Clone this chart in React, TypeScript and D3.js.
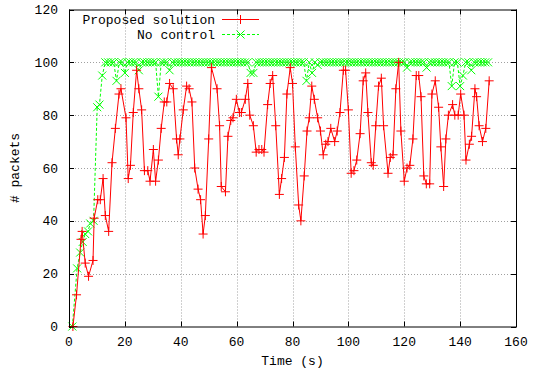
import React from "react";
import * as d3 from "d3";

// Proposed solution (red): sample times (s) and packet counts
const proposedTime = [
  1.4, 2.7, 4.3, 4.7, 5.8, 7, 8.6, 9, 10.3, 11.2, 12.2, 13, 14.2, 15.4, 16.6, 17.9, 18.6, 20.4,
  21.2, 22, 23, 24.2, 25, 26, 27, 28.2, 29, 30.2, 31, 32, 33, 34.1, 35, 36, 37.3, 38.5, 39.1,
  39.7, 40.9, 42.1, 43, 44, 45, 46.2, 47.1, 48, 48.8, 50, 51, 53, 53.9, 54.5, 56, 56.9, 57.9,
  58.7, 59.9, 61, 61.7, 63.1, 64, 64.7, 66, 67, 68, 69, 69.8, 71.1, 72, 72.9, 74, 75.3, 76.1,
  77.1, 78, 79.2, 80, 81, 82.2, 83, 84.2, 85.2, 86, 86.9, 87.8, 89, 90, 91, 91.9, 92.7, 93.7,
  95.1, 96, 97, 98.2, 99, 100, 101, 102, 103, 104.2, 105.3, 106.2, 107, 108.2, 108.9, 109.8,
  110.8, 111.8, 112.6, 114.2, 115, 116, 117, 118, 118.8, 120, 121, 122, 123.1, 124.3, 125.2,
  126, 127, 127.9, 129.1, 129.9, 131.1, 132.3, 133.1, 134.1, 134.9, 135.8, 137.3, 138.1,
  139.3, 140.2, 141.4, 142.1, 143.3, 144.1, 145.3, 145.9, 146.8, 148, 149.2, 150.4,
];
const proposedPackets = [
  0, 12, 33, 36, 24, 19, 25, 41, 48, 48, 56, 42, 36, 62, 75, 88, 90, 79,
  56, 61, 81, 97, 90, 82, 59, 59, 55, 67, 55, 63, 75, 85, 85, 92, 90, 71, 65,
  71, 82, 91, 90, 85, 60, 52, 48, 35, 42, 71, 98, 90, 76, 53, 51, 72, 78,
  79, 86, 81, 81, 86, 92, 80, 76, 66, 67, 67, 66, 84, 92, 95, 76, 50, 56,
  64, 88, 98, 92, 68, 46, 40, 57, 74, 79, 91, 86, 79, 74, 65, 69, 70, 75,
  70, 74, 81, 97, 97, 82, 58, 59, 63, 73, 93, 96, 81, 62, 61, 76,
  91, 94, 76, 58, 64, 65, 90, 100, 74, 55, 60, 61, 71, 95, 95,
  87, 57, 54, 54, 88, 93, 83, 68, 53, 71, 80, 84, 80,
  80, 88, 80, 63, 69, 72, 90, 87, 76, 70, 75, 93,
];

// No control (green)
const noControlTime = [
  1.2, 2.9, 4, 4.9, 5.8, 6.8, 7.6, 8.8, 10.1, 10.9, 11.9, 13, 14, 15, 16, 17, 18, 19, 20, 21,
  22, 23, 24, 25, 26, 27, 28, 29, 30, 31, 32, 33, 34, 35, 36, 37, 38, 39, 40, 41, 42, 43, 44,
  45, 46, 47, 48, 49, 50, 51, 52, 53, 54, 55, 56, 57, 58, 59, 60, 61, 62, 63, 64, 65, 66, 67,
  68, 69, 70, 71, 72, 73, 74, 75, 76, 77, 78, 79, 80, 81, 82, 83, 84, 85, 86, 87, 88, 89, 90,
  91, 92, 93, 94, 95, 96, 97, 98, 99, 100, 101, 102, 103, 104, 105, 106, 107, 108, 109, 110,
  111, 112, 113, 114, 115, 116, 117, 118, 119, 120, 121, 122, 123, 124, 125, 126, 127, 128,
  129, 130, 131, 132, 133, 134, 135, 136, 137, 138, 139, 140, 141, 142, 143, 144, 145, 146,
  147, 148, 149, 150,
];
const noControlPackets = [
  0, 22, 28, 32, 35, 36, 39, 40, 83, 84, 95, 100, 100, 100, 100, 93, 100, 100, 96, 100,
  100, 100, 100, 97, 100, 100, 100, 100, 100, 100, 87, 100, 100, 100, 97, 100, 100, 100, 100, 100, 100, 100, 100,
  100, 100, 100, 100, 100, 100, 100, 100, 100, 100, 100, 100, 100, 100, 100, 100, 100, 100, 100, 100, 96, 96, 100,
  100, 100, 100, 100, 100, 100, 100, 100, 100, 100, 100, 100, 100, 100, 100, 100, 100, 93, 100, 96, 100, 99, 100,
  100, 100, 100, 100, 100, 100, 100, 100, 100, 100, 100, 100, 100, 100, 100, 100, 100, 100, 100, 100,
  100, 100, 100, 100, 100, 100, 100, 100, 100, 100, 98, 100, 100, 100, 100, 100, 100, 98,
  100, 100, 100, 100, 100, 100, 100, 100, 91, 100, 100, 91, 95, 100, 100, 97, 100, 100,
  100, 100, 100, 100,
];

const xTicks = [0, 20, 40, 60, 80, 100, 120, 140, 160];
const yTicks = [0, 20, 40, 60, 80, 100, 120];

const W = 533;
const H = 373;
const margin = { top: 9.5, right: 17, bottom: 46.5, left: 69 };
const FONT = "'Liberation Mono', 'Courier New', monospace";

const plusPath = (x: number, y: number) => `M${x - 4.5},${y}h9M${x},${y - 4.5}v9`;
const crossPath = (x: number, y: number) => `M${x - 4},${y - 4}l8,8M${x - 4},${y + 4}l8,-8`;

export default function App() {
  const x = d3.scaleLinear().domain([0, 160]).range([margin.left, W - margin.right]);
  const y = d3.scaleLinear().domain([0, 120]).range([H - margin.bottom, margin.top]);

  const red = proposedTime.map((t, i) => [t, proposedPackets[i]] as [number, number]);
  const green = noControlTime.map((t, i) => [t, noControlPackets[i]] as [number, number]);

  const line = d3
    .line<[number, number]>()
    .x((d) => x(d[0]))
    .y((d) => y(d[1]));

  const x0 = x(0), x1 = x(160), y0 = y(0), y1 = y(120);

  return (
    <div style={{ position: "absolute", left: 0, top: 0 }}>
      <svg width={W} height={H} style={{ display: "block", background: "#fff" }}>
        {/* grid */}
        <g stroke="#a0a0a0" strokeWidth={1} strokeDasharray="1,2">
          {xTicks.slice(1, -1).map((t) => (
            <line key={"gx" + t} x1={Math.round(x(t)) + 0.5} x2={Math.round(x(t)) + 0.5} y1={y1} y2={y0} />
          ))}
          {yTicks.slice(1, -1).map((t) => (
            <line key={"gy" + t} x1={x0} x2={x1} y1={Math.round(y(t)) + 0.5} y2={Math.round(y(t)) + 0.5} />
          ))}
        </g>

        {/* ticks, mirrored inside */}
        <g stroke="#000" strokeWidth={1}>
          {xTicks.map((t) => {
            const px = Math.round(x(t)) + 0.5;
            return (
              <g key={"tx" + t}>
                <line x1={px} x2={px} y1={y0} y2={y0 - 5} />
                <line x1={px} x2={px} y1={y1} y2={y1 + 5} />
              </g>
            );
          })}
          {yTicks.map((t) => {
            const py = Math.round(y(t)) + 0.5;
            return (
              <g key={"ty" + t}>
                <line x1={x0} x2={x0 + 5} y1={py} y2={py} />
                <line x1={x1} x2={x1 - 5} y1={py} y2={py} />
              </g>
            );
          })}
        </g>

        {/* tick labels */}
        <g fontFamily={FONT} fontSize={13} fill="#000">
          {xTicks.map((t) => (
            <text key={"lx" + t} x={x(t)} y={y0 + 19.5} textAnchor="middle">
              {t}
            </text>
          ))}
          {yTicks.map((t) => (
            <text key={"ly" + t} x={x0 - 11} y={y(t) + 4.5} textAnchor="end">
              {t}
            </text>
          ))}
          <text x={(x0 + x1) / 2} y={H - 8.5} textAnchor="middle">
            Time (s)
          </text>
          <text transform={`translate(19,${(y0 + y1) / 2}) rotate(-90)`} textAnchor="middle">
            # packets
          </text>
        </g>

        {/* no control series */}
        <path d={line(green) || ""} fill="none" stroke="#00ff00" strokeWidth={1} strokeDasharray="3,2" />
        <path
          d={green.map((d) => crossPath(x(d[0]), y(d[1]))).join("")}
          fill="none"
          stroke="#00ff00"
          strokeWidth={1}
        />

        {/* proposed solution series */}
        <path d={line(red) || ""} fill="none" stroke="#ff0000" strokeWidth={1} />
        <path
          d={red.map((d) => plusPath(x(d[0]), y(d[1]))).join("")}
          fill="none"
          stroke="#ff0000"
          strokeWidth={1}
        />

        {/* legend */}
        <g fontFamily={FONT} fontSize={13} fill="#000">
          <text x={215} y={23.5} textAnchor="end">Proposed solution</text>
          <text x={215} y={38.5} textAnchor="end">No control</text>
        </g>
        <line x1={222} x2={259} y1={19.5} y2={19.5} stroke="#ff0000" strokeWidth={1} />
        <path d={plusPath(240.5, 19.5)} stroke="#ff0000" strokeWidth={1} fill="none" />
        <line x1={222} x2={259} y1={34.5} y2={34.5} stroke="#00ff00" strokeWidth={1} strokeDasharray="3,2" />
        <path d={crossPath(240.5, 34.5)} stroke="#00ff00" strokeWidth={1} fill="none" />

        {/* border */}
        <rect
          x={x0 + 0.5}
          y={y1 + 0.5}
          width={x1 - x0}
          height={y0 - y1}
          fill="none"
          stroke="#000"
          strokeWidth={1}
        />
      </svg>
    </div>
  );
}
